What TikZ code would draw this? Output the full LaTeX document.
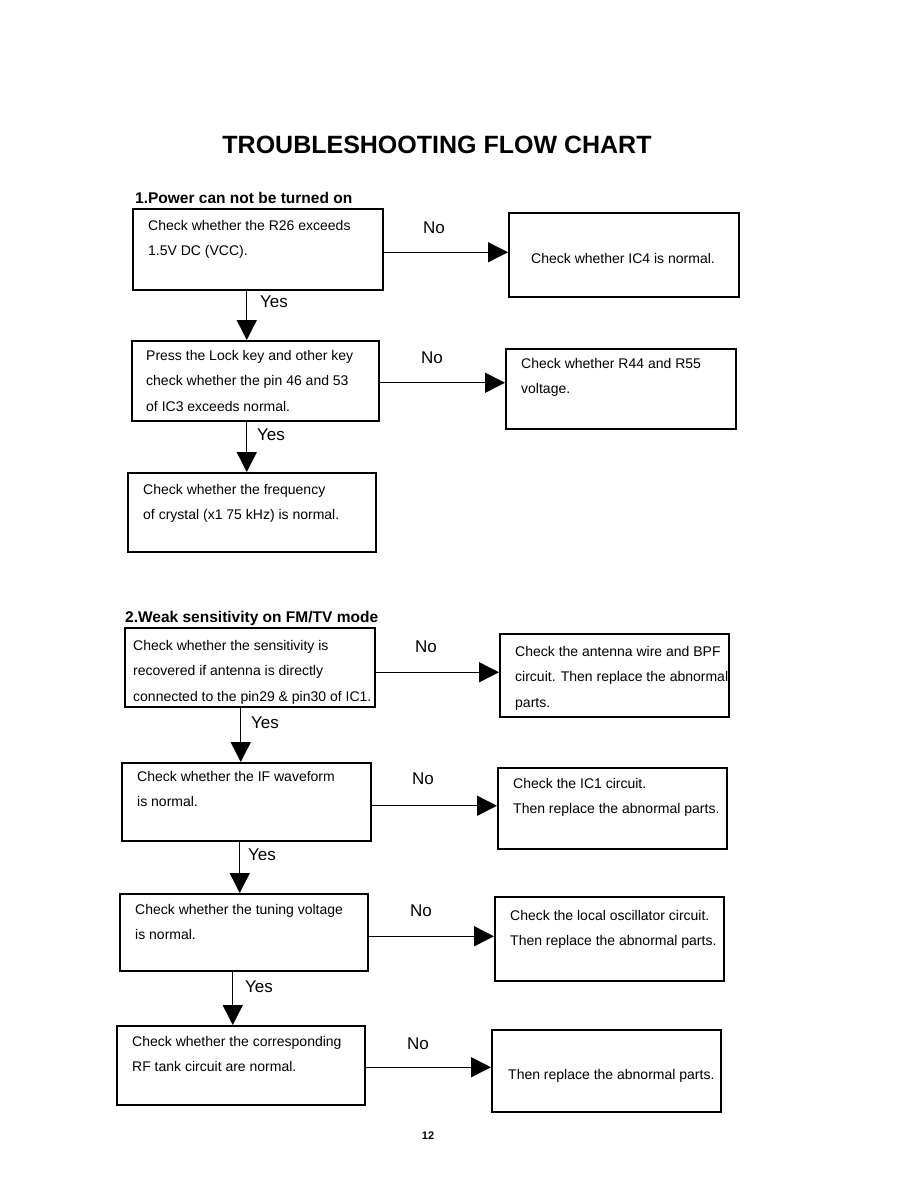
\documentclass[tikz,border=0pt]{standalone}
\usepackage{fontspec}
\setmainfont{Liberation Sans}
\usetikzlibrary{arrows.meta}
\tikzset{
  box/.style={draw, line width=1.5pt, inner sep=0pt, anchor=north west},
  txt/.style={anchor=north west, inner sep=0pt, align=left, font=\fontsize{14}{25.5}\selectfont},
  arr/.style={line width=1.4pt, -{Triangle[length=20pt,width=20pt]}},
  lbl/.style={inner sep=0pt, font=\fontsize{17}{20}\selectfont},
  head/.style={anchor=west, inner sep=0pt, font=\bfseries\fontsize{15.5}{18}\selectfont}
}
\begin{document}
\begin{tikzpicture}[x=1pt,y=-1pt]
\useasboundingbox[fill=white] (0,0) rectangle (918,1188);

\node[inner sep=0pt, font=\bfseries\fontsize{25}{30}\selectfont] (title) at (437,145) {TROUBLESHOOTING FLOW CHART};

% Section 1
\node[head] (h1) at (135,198) {1.Power can not be turned on};

\node[box, minimum width=250pt, minimum height=81pt] (a1) at (132,208) {};
\node[txt] (ta1) at (148,220) {Check whether the R26 exceeds\\1.5V DC (VCC).};
\node[box, minimum width=230pt, minimum height=84pt] (b1) at (508,212) {};
\node[txt] (tb1) at (531,253) {Check whether IC4 is normal.};

\node[box, minimum width=247pt, minimum height=80pt] (a2) at (131,340) {};
\node[txt] (ta2) at (146,350) {Press the Lock key and other key\\check whether the pin 46 and 53\\of IC3 exceeds normal.};
\node[box, minimum width=230pt, minimum height=80pt] (b2) at (505,348) {};
\node[txt] (tb2) at (521,358) {Check whether R44 and R55\\voltage.};

\node[box, minimum width=248pt, minimum height=79pt] (a3) at (127,472) {};
\node[txt] (ta3) at (143,484) {Check whether the frequency\\of crystal (x1 75 kHz) is normal.};

\draw[arr] ([yshift=-3pt]a1.east) -- ([yshift=-3pt]a1.east -| b1.west);
\node[lbl] (n1) at (434,228) {No};
\draw[arr] ([yshift=-2pt]a2.east) -- ([yshift=-2pt]a2.east -| b2.west);
\node[lbl] (n2) at (432,358) {No};

\draw[arr] ([xshift=-11pt]a1.south) -- ([xshift=-11pt]a1.south |- a2.north);
\node[lbl, anchor=west] (y1) at (260,302) {Yes};
\draw[arr] ([xshift=-8.5pt]a2.south) -- ([xshift=-8.5pt]a2.south |- a3.north);
\node[lbl, anchor=west] (y2) at (257,435) {Yes};

% Section 2
\node[head] (h2) at (125,618) {2.Weak sensitivity on FM/TV mode};

\node[box, minimum width=250pt, minimum height=79pt] (c1) at (124,627) {};
\node[txt] (tc1) at (133,640) {Check whether the sensitivity is\\recovered if antenna is directly\\connected to the pin29 \& pin30 of IC1.};
\node[box, minimum width=229pt, minimum height=83pt] (d1) at (499,633) {};
\node[txt] (td1) at (515,646) {Check the antenna wire and BPF\\circuit. Then replace the abnormal\\parts.};

\node[box, minimum width=249pt, minimum height=78pt] (c2) at (121,762) {};
\node[txt] (tc2) at (137,771) {Check whether the IF waveform\\is normal.};
\node[box, minimum width=229pt, minimum height=81pt] (d2) at (497,767) {};
\node[txt] (td2) at (513,778) {Check the IC1 circuit.\\Then replace the abnormal parts.};

\node[box, minimum width=248pt, minimum height=77pt] (c3) at (119,893) {};
\node[txt] (tc3) at (135,904) {Check whether the tuning voltage\\is normal.};
\node[box, minimum width=229pt, minimum height=84pt] (d3) at (494,896) {};
\node[txt] (td3) at (510,910) {Check the local oscillator circuit.\\Then replace the abnormal parts.};

\node[box, minimum width=248pt, minimum height=79pt] (c4) at (116,1025) {};
\node[txt] (tc4) at (132,1036) {Check whether the corresponding\\RF tank circuit are normal.};
\node[box, minimum width=229pt, minimum height=82pt] (d4) at (491,1029) {};
\node[txt] (td4) at (508,1069) {Then replace the abnormal parts.};

\draw[arr] ([yshift=-5pt]c1.east) -- ([yshift=-5pt]c1.east -| d1.west);
\node[lbl] (n3) at (426,647) {No};
\draw[arr] ([yshift=-4pt]c2.east) -- ([yshift=-4pt]c2.east -| d2.west);
\node[lbl] (n4) at (423,779) {No};
\draw[arr] ([yshift=-4pt]c3.east) -- ([yshift=-4pt]c3.east -| d3.west);
\node[lbl] (n5) at (421,911) {No};
\draw[arr] ([yshift=-2pt]c4.east) -- ([yshift=-2pt]c4.east -| d4.west);
\node[lbl] (n6) at (418,1044) {No};

\draw[arr] ([xshift=-9pt]c1.south) -- ([xshift=-9pt]c1.south |- c2.north);
\node[lbl, anchor=west] (y3) at (251,723) {Yes};
\draw[arr] ([xshift=-6.5pt]c2.south) -- ([xshift=-6.5pt]c2.south |- c3.north);
\node[lbl, anchor=west] (y4) at (248,855) {Yes};
\draw[arr] ([xshift=-11pt]c3.south) -- ([xshift=-11pt]c3.south |- c4.north);
\node[lbl, anchor=west] (y5) at (245,987) {Yes};

\node[inner sep=0pt, font=\bfseries\fontsize{11}{13}\selectfont] (pg) at (428,1136) {12};
\end{tikzpicture}
\end{document}
